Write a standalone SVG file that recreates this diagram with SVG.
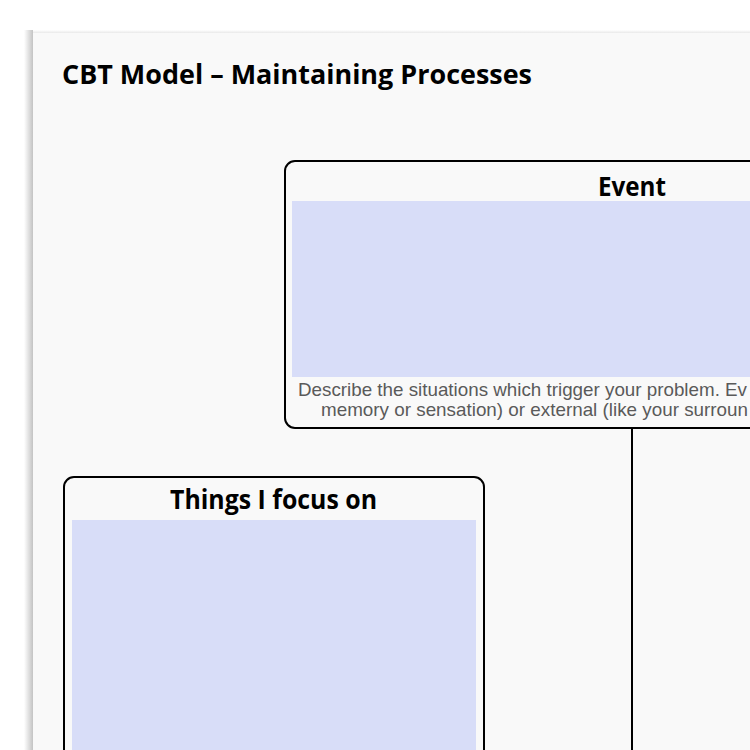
<svg xmlns="http://www.w3.org/2000/svg" width="750" height="750" viewBox="0 0 750 750">
  <defs>
    <linearGradient id="shadowL" x1="0" y1="0" x2="1" y2="0">
      <stop offset="0" stop-color="#ffffff"/>
      <stop offset="1" stop-color="#bdbdbd"/>
    </linearGradient>
    <linearGradient id="shadowT" x1="0" y1="0" x2="0" y2="1">
      <stop offset="0" stop-color="#ffffff"/>
      <stop offset="1" stop-color="#e2e2e2"/>
    </linearGradient>
  </defs>
  <style>
    .box { fill: #f9f9f9; stroke: #000000; stroke-width: 2; }
    .area { fill: #d8ddf8; }
    .head { font-family: "Open Sans", "Liberation Sans", sans-serif; font-weight: bold; fill: #000000; }
    .desc { font-family: "Liberation Sans", Arial, sans-serif; font-size: 18.5px; fill: #5a5a5a; }
    .conn { stroke: #000000; stroke-width: 2; fill: none; }
  </style>
  <rect x="0" y="0" width="750" height="750" fill="#ffffff"/>
  <rect x="24" y="30" width="10" height="720" fill="url(#shadowL)"/>
  <rect x="33" y="30" width="717" height="4" fill="url(#shadowT)"/>
  <rect x="33" y="33" width="717" height="717" fill="#f9f9f9"/>
  <text class="head" x="62" y="84" font-size="26.5" textLength="470" lengthAdjust="spacingAndGlyphs">CBT Model – Maintaining Processes</text>

  <g id="connectors">
    <line class="conn" x1="632" y1="428" x2="632" y2="760"/>
  </g>

  <g id="event">
    <rect class="box" x="285" y="161" width="694" height="267" rx="10" ry="10"/>
    <rect class="area" x="292" y="201" width="680" height="176"/>
    <text class="head" x="598" y="196" font-size="26.5" textLength="68" lengthAdjust="spacingAndGlyphs">Event</text>
    <text class="desc" x="298" y="396" textLength="449" lengthAdjust="spacingAndGlyphs">Describe the situations which trigger your problem. Ev</text>
    <text class="desc" x="321" y="416" textLength="427" lengthAdjust="spacingAndGlyphs">memory or sensation) or external (like your surroun</text>
  </g>

  <g id="things-i-focus-on">
    <rect class="box" x="64" y="477" width="420" height="320" rx="10" ry="10"/>
    <rect class="area" x="72" y="520" width="404" height="260"/>
    <text class="head" x="170" y="509" font-size="26.5" textLength="207" lengthAdjust="spacingAndGlyphs">Things I focus on</text>
  </g>
</svg>
